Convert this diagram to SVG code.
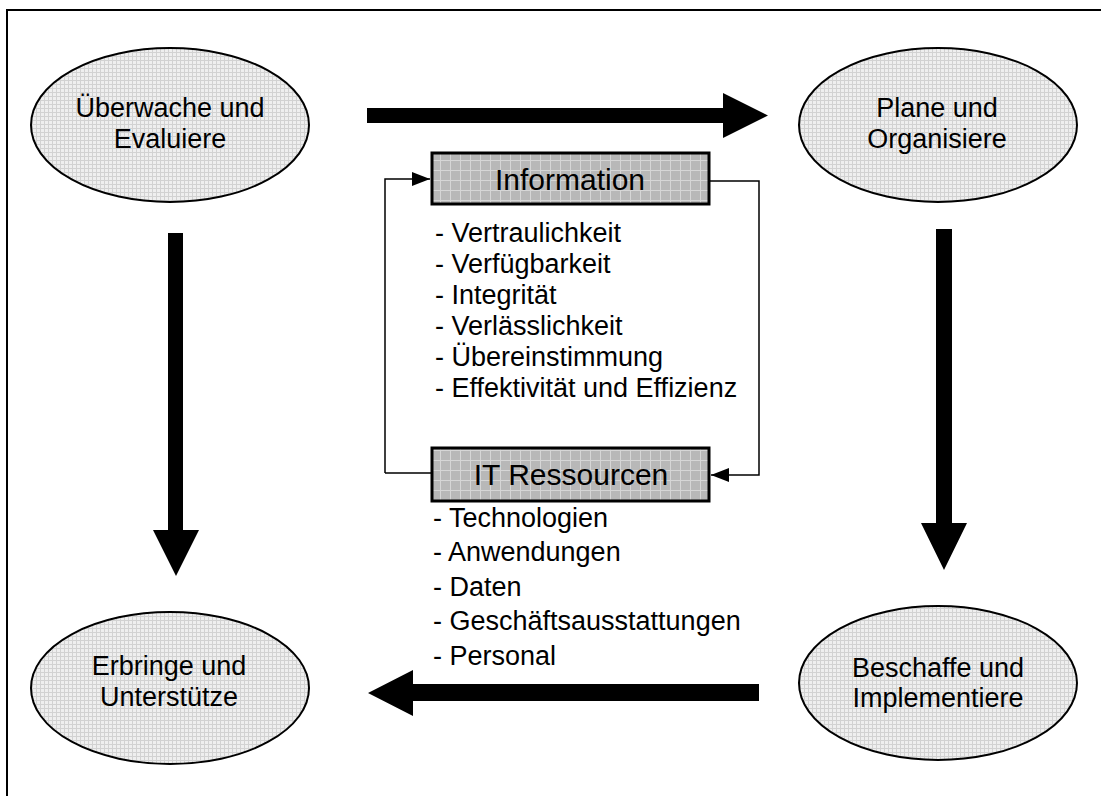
<svg xmlns="http://www.w3.org/2000/svg" width="1101" height="796" viewBox="0 0 1101 796">
<defs>
<pattern id="pEll" width="4" height="4" patternUnits="userSpaceOnUse">
<rect width="4" height="4" fill="#efefef"/>
<rect width="1" height="4" fill="#d2d2d2"/>
<rect width="4" height="1" fill="#d2d2d2"/>
</pattern>
<pattern id="pBox" width="10" height="10" patternUnits="userSpaceOnUse">
<rect width="10" height="10" fill="#b8b8b8"/>
<rect width="1" height="10" fill="#d6d6d6"/>
<rect width="10" height="1" fill="#d6d6d6"/>
</pattern>
<marker id="ahL" viewBox="0 0 18 14" refX="18" refY="7" markerWidth="18" markerHeight="14" markerUnits="userSpaceOnUse" orient="auto">
<path d="M0,0 L18,7 L0,14 z" fill="#000"/>
</marker>
</defs>
<style>
.ell{fill:url(#pEll);stroke:#000;stroke-width:2}
.box{fill:url(#pBox);stroke:#000;stroke-width:3}
.t{font-family:"Liberation Sans",Arial,sans-serif;font-size:27px;fill:#000}
.bt{font-family:"Liberation Sans",Arial,sans-serif;font-size:30px;fill:#000}
.mid{text-anchor:middle}
.fb{fill:none;stroke:#000;stroke-width:1.5}
.big{fill:#000}
</style>
<rect width="1101" height="796" fill="#fff"/>
<path d="M7,796 V10 H1101" fill="none" stroke="#000" stroke-width="2"/>

<g id="connectors">
<polygon class="big" points="367,108 723,108 723,93 768,115.5 723,138 723,123 367,123"/>
<polygon class="big" points="168,233 183,233 183,530 199,530 176,576 153,530 168,530"/>
<polygon class="big" points="936,229 952,229 952,523 967,523 944,570 921,523 936,523"/>
<polygon class="big" points="759,684 759,701 413,701 413,716 368,693 413,670 413,684"/>
<path class="fb" d="M385,473 H432 M385,473 V179 H430" marker-end="url(#ahL)"/>
<path class="fb" d="M709,181 H759 V475 H711" marker-end="url(#ahL)"/>
</g>

<g id="ueberwache">
<ellipse class="ell" cx="170" cy="125" rx="139" ry="77"/>
<text class="t mid" x="170" y="117">Überwache und</text>
<text class="t mid" x="170" y="148">Evaluiere</text>
</g>
<g id="plane">
<ellipse class="ell" cx="938" cy="125" rx="139" ry="77"/>
<text class="t mid" x="937" y="117">Plane und</text>
<text class="t mid" x="937" y="148">Organisiere</text>
</g>
<g id="erbringe">
<ellipse class="ell" cx="170" cy="688" rx="139" ry="76"/>
<text class="t mid" x="169" y="675">Erbringe und</text>
<text class="t mid" x="169" y="706">Unterstütze</text>
</g>
<g id="beschaffe">
<ellipse class="ell" cx="938" cy="683" rx="139" ry="77"/>
<text class="t mid" x="938" y="677">Beschaffe und</text>
<text class="t mid" x="938" y="707">Implementiere</text>
</g>

<g id="information">
<rect class="box" x="432" y="153" width="277" height="51"/>
<text class="bt mid" x="570" y="190">Information</text>
</g>
<g id="info-list">
<text class="t" x="435" y="242">- Vertraulichkeit</text>
<text class="t" x="435" y="273">- Verfügbarkeit</text>
<text class="t" x="435" y="304">- Integrität</text>
<text class="t" x="435" y="335">- Verlässlichkeit</text>
<text class="t" x="435" y="366">- Übereinstimmung</text>
<text class="t" x="435" y="397">- Effektivität und Effizienz</text>
</g>

<g id="itressourcen">
<rect class="box" x="432" y="448" width="277" height="53"/>
<text class="bt mid" x="571" y="485">IT Ressourcen</text>
</g>
<g id="it-list">
<text class="t" x="433" y="527">- Technologien</text>
<text class="t" x="433" y="561">- Anwendungen</text>
<text class="t" x="433" y="596">- Daten</text>
<text class="t" x="433" y="630">- Geschäftsausstattungen</text>
<text class="t" x="433" y="665">- Personal</text>
</g>
</svg>
